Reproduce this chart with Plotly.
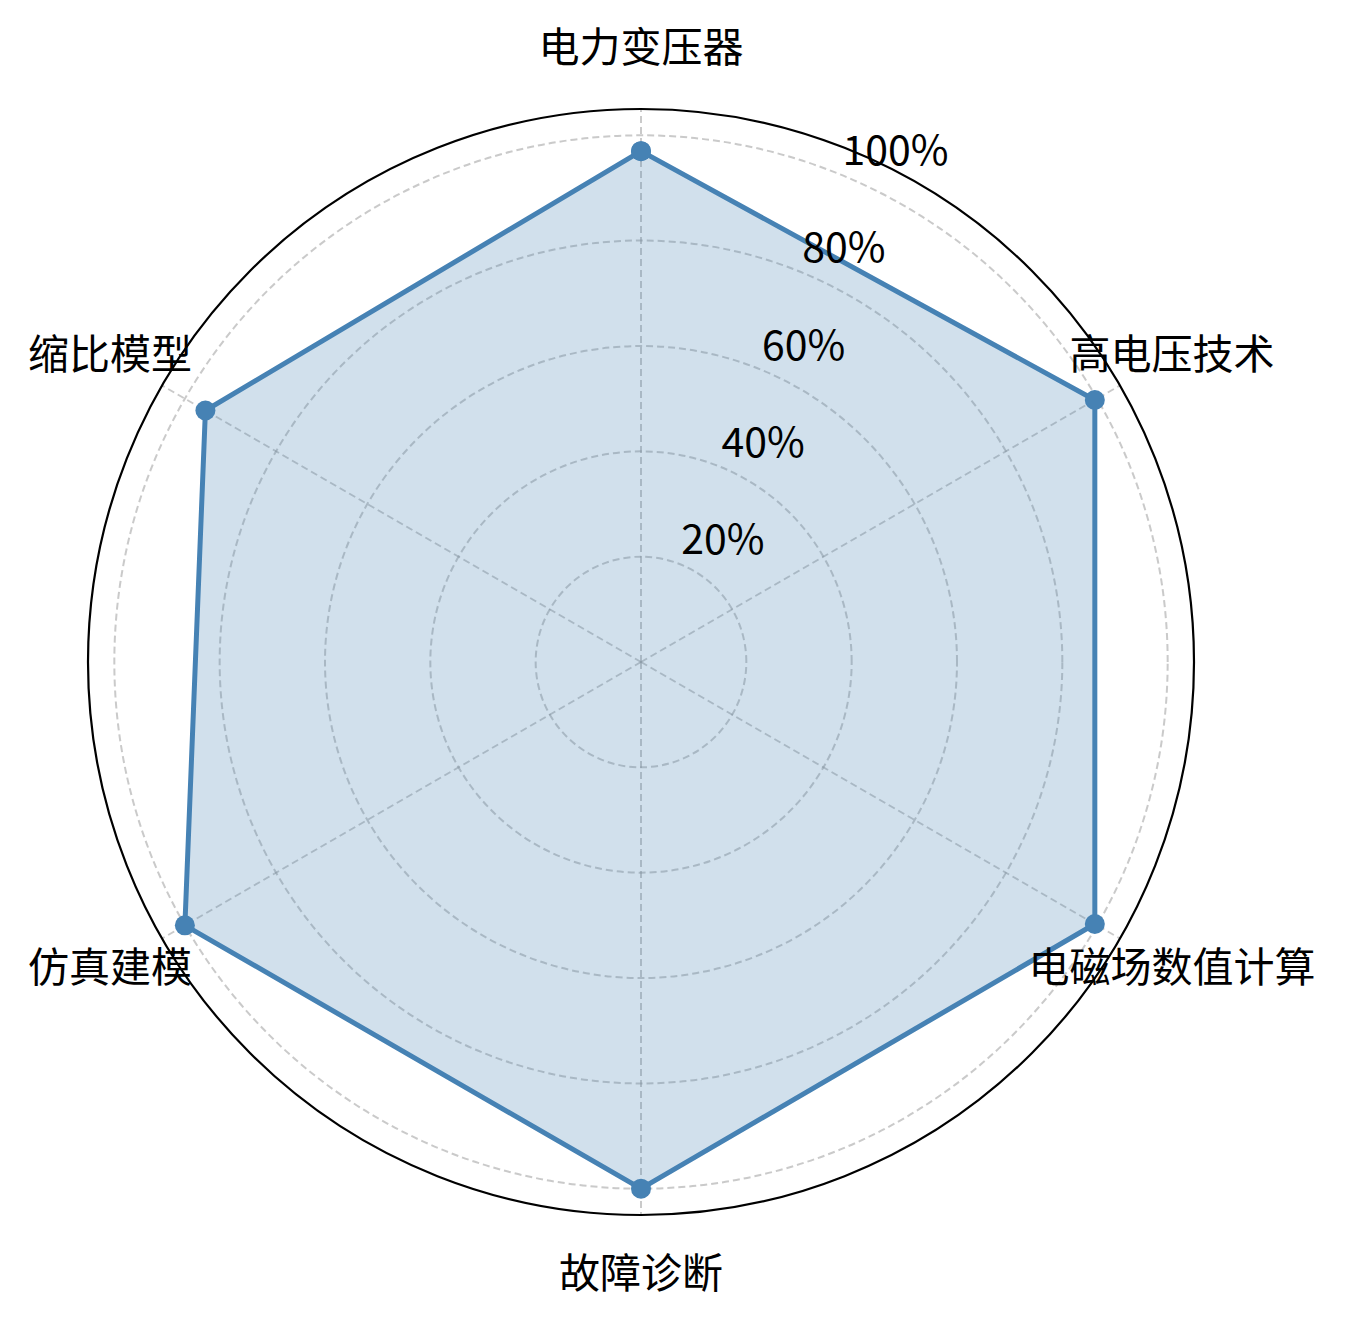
import plotly.graph_objects as go

categories = ["电力变压器", "高电压技术", "电磁场数值计算", "故障诊断", "仿真建模", "缩比模型"]
values = [97, 99.5, 99.5, 100, 100, 95.5]
radial_ticks = [20, 40, 60, 80, 100]
radial_tick_labels = ["20%", "40%", "60%", "80%", "100%"]
radial_label_angle = [22.5] * len(radial_ticks)
label_radius = [116.4] * len(categories)

FONT = "Noto Sans CJK SC"
STEEL = "#4682B4"
GRID = "rgba(150,150,150,0.5)"
W, H = 1346, 1324
CX, CY = 633, 654          # target centre (px, page body offset removed)
R_MAIN, R_OUT = 553, 630   # radii of main polar and label polar (px)
RMAX = 105


def dom(r, dy=0):
    return dict(x=[(CX - r) / W, (CX + r) / W],
                y=[1 - (CY + dy + r) / H, 1 - (CY + dy - r) / H])


fig = go.Figure()
fig.add_trace(go.Scatterpolar(
    r=values + values[:1],
    theta=categories + categories[:1],
    mode="lines+markers",
    fill="toself",
    fillcolor="rgba(70,130,180,0.25)",
    line=dict(color=STEEL, width=5),
    marker=dict(color=STEEL, size=20),
    hoverinfo="skip",
    subplot="polar",
))
fig.add_trace(go.Scatterpolar(
    r=label_radius,
    theta=categories,
    mode="text",
    text=categories,
    textposition="middle center",
    textfont=dict(family=FONT, size=41, color="black"),
    cliponaxis=False,
    hoverinfo="skip",
    subplot="polar2",
))
fig.add_trace(go.Scatterpolar(
    r=radial_ticks,
    theta=radial_label_angle,
    mode="text",
    text=radial_tick_labels,
    textposition="top right",
    textfont=dict(family=FONT, size=41, color="black"),
    cliponaxis=False,
    hoverinfo="skip",
    subplot="polar3",
))

common_ang = dict(direction="clockwise", rotation=90,
                  categoryorder="array", categoryarray=categories)
hidden_radial = dict(showline=False, showgrid=False, ticks="", showticklabels=False)

fig.update_layout(
    width=W, height=H,
    margin=dict(l=0, r=0, t=0, b=0),
    paper_bgcolor="white",
    showlegend=False,
    font=dict(family=FONT, size=41, color="black"),
    polar=dict(
        bgcolor="white",
        domain=dom(R_MAIN),
        angularaxis=dict(
            **common_ang,
            showline=True, linecolor="black", linewidth=2.2,
            showgrid=True, gridcolor=GRID, gridwidth=2, griddash="7px,4px",
            ticks="", showticklabels=False,
        ),
        radialaxis=dict(
            range=[0, RMAX], angle=67.5,
            tickvals=radial_ticks, ticktext=radial_tick_labels,
            showline=False, ticks="", showticklabels=False,
            showgrid=True, gridcolor=GRID, gridwidth=2, griddash="7px,4px",
        ),
    ),
    polar2=dict(
        bgcolor="rgba(0,0,0,0)",
        domain=dom(R_OUT, dy=3),
        angularaxis=dict(**common_ang, showline=False, showgrid=False,
                         ticks="", showticklabels=False),
        radialaxis=dict(range=[0, RMAX * R_OUT / R_MAIN], **hidden_radial),
    ),
    polar3=dict(
        bgcolor="rgba(0,0,0,0)",
        domain=dom(R_MAIN),
        angularaxis=dict(type="linear", direction="clockwise", rotation=90,
                         showline=False, showgrid=False, ticks="",
                         showticklabels=False),
        radialaxis=dict(range=[0, RMAX], **hidden_radial),
    ),
)

fig.write_html("out.html")
